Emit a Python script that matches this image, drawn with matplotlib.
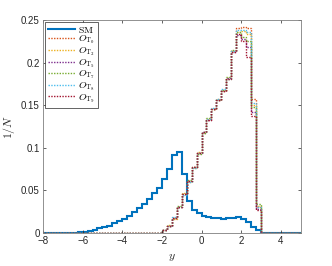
import numpy as np
import matplotlib
matplotlib.use("Agg")
import matplotlib.pyplot as plt
from matplotlib.ticker import FuncFormatter
from matplotlib.lines import Line2D

plt.rcParams['mathtext.fontset'] = 'cm'
plt.rcParams['font.family'] = ['Liberation Sans', 'DejaVu Sans']

# histogram binning
bin_width = 0.25
x_min, x_max = -8.0, 5.0

# SM distribution, first bin starts at -6.5
sm_start = -6.5
sm_vals = [0.0003, 0.0008, 0.0015, 0.0025, 0.0037, 0.0055, 0.0068, 0.0088,
           0.0114, 0.0140, 0.0168, 0.0205, 0.0245, 0.0293, 0.0335, 0.0400,
           0.0466, 0.0530, 0.0634, 0.0747, 0.0920, 0.0950, 0.0690, 0.0370,
           0.0270, 0.0230, 0.0203, 0.0186, 0.0178, 0.0172, 0.0168, 0.0172,
           0.0178, 0.0192, 0.0164, 0.0125, 0.0075, 0.0030]

# BSM operator distributions, first bin starts at -2.25
op_start = -2.25
op_T0 = [0.0005, 0.003, 0.008, 0.018, 0.031, 0.046, 0.061, 0.077, 0.094, 0.117,
         0.133, 0.145, 0.156, 0.168, 0.182, 0.214, 0.240, 0.242, 0.241, 0.157, 0.030]
op_T2 = [0.0005, 0.003, 0.009, 0.017, 0.030, 0.047, 0.060, 0.076, 0.095, 0.118,
         0.134, 0.146, 0.157, 0.167, 0.181, 0.213, 0.236, 0.237, 0.234, 0.150, 0.032]
op_T5 = [0.0005, 0.003, 0.008, 0.018, 0.031, 0.046, 0.061, 0.077, 0.094, 0.118,
         0.133, 0.145, 0.156, 0.167, 0.182, 0.212, 0.232, 0.228, 0.218, 0.142, 0.028]
op_T7 = [0.0005, 0.003, 0.008, 0.018, 0.032, 0.046, 0.062, 0.078, 0.093, 0.117,
         0.135, 0.146, 0.156, 0.168, 0.183, 0.215, 0.236, 0.230, 0.225, 0.148, 0.034]
op_T8 = [0.0005, 0.003, 0.008, 0.019, 0.030, 0.045, 0.060, 0.076, 0.094, 0.119,
         0.134, 0.147, 0.157, 0.169, 0.181, 0.213, 0.238, 0.238, 0.236, 0.152, 0.031]
op_T9 = [0.0005, 0.003, 0.008, 0.018, 0.031, 0.046, 0.061, 0.077, 0.094, 0.118,
         0.133, 0.145, 0.156, 0.167, 0.181, 0.212, 0.233, 0.225, 0.207, 0.137, 0.027]

op_series = [op_T0, op_T2, op_T5, op_T7, op_T8, op_T9]
labels = [r'$\mathrm{SM}$', r'$O_{\mathrm{T}_0}$', r'$O_{\mathrm{T}_2}$', r'$O_{\mathrm{T}_5}$',
          r'$O_{\mathrm{T}_7}$', r'$O_{\mathrm{T}_8}$', r'$O_{\mathrm{T}_9}$']
colors = ['#0072BD', '#D95319', '#EDB120', '#7E2F8E', '#77AC30', '#4DBEEE', '#A2142F']

xticks = [-8, -6, -4, -2, 0, 2, 4]
yticks = [0, 0.05, 0.1, 0.15, 0.2, 0.25]

edges = np.linspace(x_min, x_max, int(round((x_max - x_min) / bin_width)) + 1)
nbins = len(edges) - 1


def full(vals, start):
    arr = np.zeros(nbins)
    i0 = int(round((start - x_min) / bin_width))
    arr[i0:i0 + len(vals)] = vals
    return arr


fig = plt.figure(figsize=(3.32, 2.66), dpi=100)
ax = fig.add_axes([0.1295, 0.124, 0.776, 0.801])

ax.stairs(full(sm_vals, sm_start), edges, color=colors[0], lw=1.5)
for vals, c in zip(op_series, colors[1:]):
    ax.stairs(full(vals, op_start), edges, color=c, lw=1.0, linestyle=(0, (1, 1)))

ax.set_xlim(x_min, x_max)
ax.set_ylim(0, 0.25)
ax.set_xticks(xticks)
ax.set_yticks(yticks)
ax.yaxis.set_major_formatter(FuncFormatter(lambda v, p: ('%g' % v)))
axcol = '#262626'
ax.tick_params(direction='in', length=2.5, width=0.5, top=True, right=True,
               labelsize=7, colors=axcol, pad=2.5)
for s in ax.spines.values():
    s.set_color('#7f7f7f')
    s.set_linewidth(0.6)

ax.set_xlabel(r'$y$', fontsize=8.5, color=axcol, labelpad=3)
ax.set_ylabel(r'$1/N$', fontsize=8.5, color=axcol, labelpad=2.5)

proxies = [Line2D([], [], color=colors[0], lw=1.5)]
for c in colors[1:]:
    proxies.append(Line2D([], [], color=c, lw=1.0, linestyle=(0, (1, 1))))
leg = ax.legend(proxies, labels, loc='upper left', fontsize=7, frameon=True,
                fancybox=False, edgecolor='#262626', framealpha=1,
                handlelength=2.8, handletextpad=0.3, labelspacing=-0.12,
                borderpad=0.3, borderaxespad=0.2)
leg.get_frame().set_linewidth(0.5)

fig.savefig('out.png', dpi=100)
